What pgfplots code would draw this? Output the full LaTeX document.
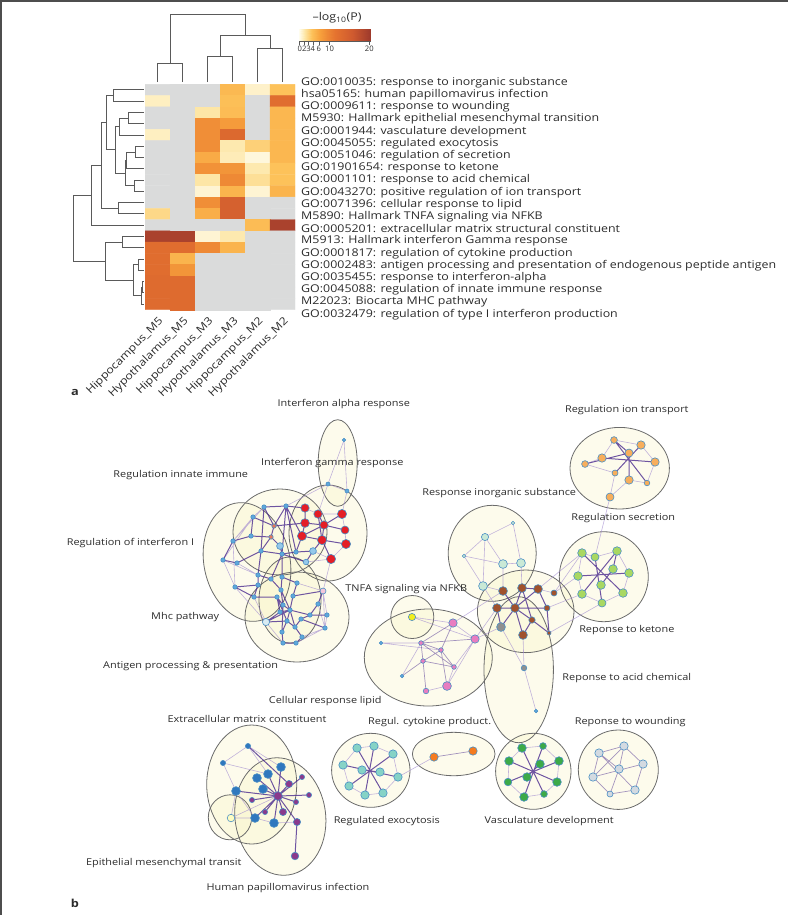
\documentclass[border=0pt]{standalone}
\usepackage{fontspec}
\setmainfont{Open Sans}[FakeStretch=1.16]
\newfontfamily\plainfont{Open Sans}
\usepackage{pgfplots}
\pgfplotsset{compat=1.18}
\newcommand\lbl{\fontsize{10.7}{11}\selectfont}
\newcommand\clbl{\fontsize{10.6}{11}\selectfont}
\newcommand\nlbl{\fontsize{9.4}{11}\selectfont}
\definecolor{hmgray}{HTML}{DADBDB}
\definecolor{h0}{HTML}{FFFDEE}
\definecolor{h1}{HTML}{FDE6A6}
\definecolor{h2}{HTML}{FDC25A}
\definecolor{h3}{HTML}{F7A03C}
\definecolor{h4}{HTML}{E5732F}
\definecolor{h5}{HTML}{CF5A2F}
\definecolor{h6}{HTML}{9E3A2C}
\definecolor{dendro}{HTML}{5A5A5A}
\definecolor{frame}{HTML}{4D4D4D}
\definecolor{txt}{HTML}{2B2B2B}
\definecolor{clfill}{HTML}{F8F4C4}
\definecolor{clline}{HTML}{6B6B6B}
\definecolor{edgeS}{HTML}{4B2B8F}
\definecolor{edgeL}{HTML}{A28BD0}
\definecolor{ndline}{HTML}{4A8FC4}
\definecolor{cRed}{HTML}{E41E26}
\definecolor{cBlue}{HTML}{5FA8DC}
\definecolor{cBlueL}{HTML}{94C8EA}
\definecolor{cPale}{HTML}{D9ECF2}
\definecolor{cPaleP}{HTML}{F4C6DA}
\definecolor{cSalmon}{HTML}{E2785E}
\definecolor{cPink}{HTML}{E87DC0}
\definecolor{cYel}{HTML}{F2EE1E}
\definecolor{cMint}{HTML}{C9E9D6}
\definecolor{cBrown}{HTML}{A0522D}
\definecolor{cGray}{HTML}{8F8F8F}
\definecolor{cIon}{HTML}{F7AE5C}
\definecolor{cKet}{HTML}{A9D862}
\definecolor{cTeal}{HTML}{86D3C6}
\definecolor{cOra}{HTML}{F57B1F}
\definecolor{cGreen}{HTML}{3DAA48}
\definecolor{cWound}{HTML}{D3DAE1}
\definecolor{cECM}{HTML}{2F78BE}
\definecolor{cPurp}{HTML}{8A3A8C}
\definecolor{cPaleY}{HTML}{FDFDC2}

\pgfplotsset{
  nd/.style={scatter, only marks, mark=*, point meta=y,
    scatter/use mapped color={draw=ndline, fill=#1, line width=0.6pt},
    visualization depends on={\thisrow{r}\as\rad},
    scatter/@pre marker code/.append style={/tikz/mark size=\rad}},
  edS/.style={no markers, draw=edgeS, line width=1.0pt, draw opacity=0.8},
  edM/.style={no markers, draw=edgeS, line width=0.7pt, draw opacity=0.5},
  edL/.style={no markers, draw=edgeL, line width=0.6pt, draw opacity=0.65},
  dg/.style={no markers, draw=dendro, line width=1pt},
}

\begin{document}
\begin{tikzpicture}
\useasboundingbox (0,0) rectangle (788pt,-915pt);
\draw[line width=1.6pt, frame] (0.8pt,-915pt) -- (0.8pt,-0.8pt) -- (788pt,-0.8pt);

% ---------------- canvas in pixel units ----------------
\begin{axis}[at={(0pt,0pt)}, anchor=north west, scale only axis,
  width=788pt, height=915pt, xmin=0, xmax=788, ymin=0, ymax=915,
  y dir=reverse, hide axis, clip=false, unbounded coords=jump]

% top dendrogram
\addplot[dg] table[row sep=\\]{x y\\
157.5 82\\ 157.5 63.3\\ 182.5 63.3\\ 182.5 82\\ nan nan\\
207.5 82\\ 207.5 56.7\\ 232.5 56.7\\ 232.5 82\\ nan nan\\
257.5 82\\ 257.5 48.3\\ 282.5 48.3\\ 282.5 82\\ nan nan\\
220 56.7\\ 220 35\\ 270 35\\ 270 48.3\\ nan nan\\
170 63.3\\ 170 14\\ 245 14\\ 245 35\\
};
% left dendrogram
\addplot[dg] table[row sep=\\]{x y\\
143.5 89.9\\ 113.3 89.9\\ 113.3 101.2\\ 143.5 101.2\\ nan nan\\
143.5 112.5\\ 128.3 112.5\\ 128.3 123.7\\ 143.5 123.7\\ nan nan\\
128.3 118.1\\ 119.3 118.1\\ 119.3 135.0\\ 143.5 135.0\\ nan nan\\
143.5 146.3\\ 135 146.3\\ 135 157.6\\ 143.5 157.6\\ nan nan\\
135 152.0\\ 126.7 152.0\\ 126.7 168.8\\ 143.5 168.8\\ nan nan\\
143.5 180.1\\ 134.3 180.1\\ 134.3 191.4\\ 143.5 191.4\\ nan nan\\
126.7 160.4\\ 125.3 160.4\\ 125.3 185.8\\ 134.3 185.8\\ nan nan\\
119.3 126.6\\ 115 126.6\\ 115 173.1\\ 125.3 173.1\\ nan nan\\
113.3 95.6\\ 106.7 95.6\\ 106.7 149.9\\ 115 149.9\\ nan nan\\
143.5 202.6\\ 118.3 202.6\\ 118.3 213.9\\ 143.5 213.9\\ nan nan\\
106.7 122.7\\ 101.7 122.7\\ 101.7 208.3\\ 118.3 208.3\\ nan nan\\
101.7 165.5\\ 91.7 165.5\\ 91.7 225.2\\ 143.5 225.2\\ nan nan\\
143.5 236.5\\ 122.7 236.5\\ 122.7 247.7\\ 143.5 247.7\\ nan nan\\
143.5 259.0\\ 138.3 259.0\\ 138.3 270.3\\ 143.5 270.3\\ nan nan\\
143.5 281.5\\ 142 281.5\\ 142 292.8\\ 143.5 292.8\\ nan nan\\
142 287.2\\ 141 287.2\\ 141 304.1\\ 143.5 304.1\\ nan nan\\
138.3 264.7\\ 133.3 264.7\\ 133.3 295.6\\ 141 295.6\\ nan nan\\
122.7 242.1\\ 105 242.1\\ 105 280.2\\ 133.3 280.2\\ nan nan\\
91.7 195.4\\ 73.3 195.4\\ 73.3 261.1\\ 105 261.1\\
};

\node[font=\fontsize{10.7}{11}\selectfont, txt] at (axis cs:337,18) {–log\textsubscript{10}(P)};
\node[font=\fontsize{11}{12}\bfseries, txt] at (axis cs:75,392) {a};
\node[font=\fontsize{11}{12}\bfseries, txt] at (axis cs:75,903) {b};

% ---------------- cluster regions ----------------
\fill[clfill, fill opacity=0.32] (axis cs:337.7,463) ellipse [x radius=19.5pt, y radius=43.3pt];
\fill[clfill, fill opacity=0.32] (axis cs:328,533) ellipse [x radius=39pt, y radius=48pt];
\fill[clfill, fill opacity=0.32] (axis cs:280,532) ellipse [x radius=47pt, y radius=43pt];
\fill[clfill, fill opacity=0.32] (axis cs:247,562) ellipse [x radius=43pt, y radius=60pt, rotate=12];
\fill[clfill, fill opacity=0.32] (axis cs:290,600) ellipse [x radius=31pt, y radius=43pt];
\fill[clfill, fill opacity=0.32] (axis cs:297,617) ellipse [x radius=52pt, y radius=45pt];
\fill[clfill, fill opacity=0.32] (axis cs:412.3,617) ellipse [x radius=21.5pt, y radius=21.5pt];
\fill[clfill, fill opacity=0.32] (axis cs:428.3,657.5) ellipse [x radius=64pt, y radius=48.5pt];
\fill[clfill, fill opacity=0.32] (axis cs:492.2,553.3) ellipse [x radius=44pt, y radius=48pt];
\fill[clfill, fill opacity=0.32] (axis cs:525.7,611.3) ellipse [x radius=48.3pt, y radius=41.3pt];
\fill[clfill, fill opacity=0.32] (axis cs:619.7,468.2) ellipse [x radius=49.7pt, y radius=40.8pt];
\fill[clfill, fill opacity=0.32] (axis cs:603.8,576.7) ellipse [x radius=44.5pt, y radius=45pt];
\fill[clfill, fill opacity=0.32] (axis cs:518.7,669.7) ellipse [x radius=34.7pt, y radius=73pt];
\fill[clfill, fill opacity=0.32] (axis cs:453.7,754) ellipse [x radius=41.3pt, y radius=21.7pt];
\fill[clfill, fill opacity=0.32] (axis cs:370.8,770.3) ellipse [x radius=39.2pt, y radius=37pt];
\fill[clfill, fill opacity=0.32] (axis cs:533.3,771.3) ellipse [x radius=37.7pt, y radius=38pt];
\fill[clfill, fill opacity=0.32] (axis cs:618.3,769.7) ellipse [x radius=40pt, y radius=39.7pt];
\fill[clfill, fill opacity=0.32] (axis cs:251.7,784.5) ellipse [x radius=45pt, y radius=59.5pt];
\fill[clfill, fill opacity=0.32] (axis cs:280.3,816.5) ellipse [x radius=45.3pt, y radius=59pt, rotate=8];
\fill[clfill, fill opacity=0.32] (axis cs:230,817.3) ellipse [x radius=21.7pt, y radius=22.5pt];

\draw[clline, line width=0.8pt] (axis cs:337.7,463) ellipse [x radius=19.5pt, y radius=43.3pt];
\draw[clline, line width=0.8pt] (axis cs:328,533) ellipse [x radius=39pt, y radius=48pt];
\draw[clline, line width=0.8pt] (axis cs:280,532) ellipse [x radius=47pt, y radius=43pt];
\draw[clline, line width=0.8pt] (axis cs:247,562) ellipse [x radius=43pt, y radius=60pt, rotate=12];
\draw[clline, line width=0.8pt] (axis cs:290,600) ellipse [x radius=31pt, y radius=43pt];
\draw[clline, line width=0.8pt] (axis cs:297,617) ellipse [x radius=52pt, y radius=45pt];
\draw[clline, line width=0.8pt] (axis cs:412.3,617) ellipse [x radius=21.5pt, y radius=21.5pt];
\draw[clline, line width=0.8pt] (axis cs:428.3,657.5) ellipse [x radius=64pt, y radius=48.5pt];
\draw[clline, line width=0.8pt] (axis cs:492.2,553.3) ellipse [x radius=44pt, y radius=48pt];
\draw[clline, line width=0.8pt] (axis cs:525.7,611.3) ellipse [x radius=48.3pt, y radius=41.3pt];
\draw[clline, line width=0.8pt] (axis cs:619.7,468.2) ellipse [x radius=49.7pt, y radius=40.8pt];
\draw[clline, line width=0.8pt] (axis cs:603.8,576.7) ellipse [x radius=44.5pt, y radius=45pt];
\draw[clline, line width=0.8pt] (axis cs:518.7,669.7) ellipse [x radius=34.7pt, y radius=73pt];
\draw[clline, line width=0.8pt] (axis cs:453.7,754) ellipse [x radius=41.3pt, y radius=21.7pt];
\draw[clline, line width=0.8pt] (axis cs:370.8,770.3) ellipse [x radius=39.2pt, y radius=37pt];
\draw[clline, line width=0.8pt] (axis cs:533.3,771.3) ellipse [x radius=37.7pt, y radius=38pt];
\draw[clline, line width=0.8pt] (axis cs:618.3,769.7) ellipse [x radius=40pt, y radius=39.7pt];
\draw[clline, line width=0.8pt] (axis cs:251.7,784.5) ellipse [x radius=45pt, y radius=59.5pt];
\draw[clline, line width=0.8pt] (axis cs:280.3,816.5) ellipse [x radius=45.3pt, y radius=59pt, rotate=8];
\draw[clline, line width=0.8pt] (axis cs:230,817.3) ellipse [x radius=21.7pt, y radius=22.5pt];

% ---------------- edges ----------------
\addplot[edL] table[row sep=\\]{x y\\
223 560\\ 235 587\\ nan nan\\ 233 541\\ 235 587\\ nan nan\\ 237 563\\ 258 575\\ nan nan\\
253 517\\ 233 541\\ nan nan\\ 264 507\\ 253 517\\ nan nan\\ 328 484\\ 347 491\\ nan nan\\
344 440\\ 328 484\\ nan nan\\ 344 440\\ 347 491\\ nan nan\\ 347 491\\ 342 514\\ nan nan\\
328 484\\ 318 514\\ nan nan\\ 328 484\\ 286 506\\ nan nan\\ 323 591\\ 325 628\\ nan nan\\
323 591\\ 297 583\\ nan nan\\ 318 604\\ 325 628\\ nan nan\\ 327 615\\ 325 628\\ nan nan\\
331 559\\ 306 562\\ nan nan\\ 331 559\\ 313 551\\ nan nan\\ 345 530\\ 346 544\\ nan nan\\
342 514\\ 345 530\\ nan nan\\ 318 514\\ 342 514\\ nan nan\\ 305 508\\ 318 514\\ nan nan\\
346 544\\ 331 559\\ nan nan\\ 223 560\\ 258 575\\ nan nan\\ 233 541\\ 264 507\\ nan nan\\
323 591\\ 327 615\\ nan nan\\ 331 559\\ 323 591\\ nan nan\\ 235 587\\ 266 622\\ nan nan\\
254 597\\ 266 622\\ nan nan\\ 325 628\\ 302 637\\ nan nan\\ 296 643\\ 325 628\\ nan nan\\
253 517\\ 223 560\\ nan nan\\ 266 622\\ 283 643\\ nan nan\\
412 617\\ 475 639\\ nan nan\\ 412 617\\ 453 623\\ nan nan\\ 381 643\\ 421 643\\ nan nan\\
381 643\\ 441 650\\ nan nan\\ 402 676\\ 421 643\\ nan nan\\ 453 623\\ 475 639\\ nan nan\\
475 639\\ 454 667\\ nan nan\\ 447 686\\ 454 667\\ nan nan\\ 426 691\\ 447 686\\ nan nan\\
475 639\\ 497 608\\ nan nan\\ 453 623\\ 503 591\\ nan nan\\ 475 639\\ 447 686\\ nan nan\\
554 593\\ 538 589\\ nan nan\\ 554 593\\ 578 576\\ nan nan\\ 503 591\\ 503 564\\ nan nan\\
522 588\\ 521 563\\ nan nan\\ 497 608\\ 483 586\\ nan nan\\ 501 627\\ 524 668\\ nan nan\\
524 668\\ 536 711\\ nan nan\\ 523 635\\ 524 668\\ nan nan\\ 503 591\\ 483 586\\ nan nan\\
547 608\\ 582 594\\ nan nan\\ 538 589\\ 582 553\\ nan nan\\ 554 593\\ 582 553\\ nan nan\\
501 627\\ 475 639\\ nan nan\\ 549 633\\ 602 603\\ nan nan\\
485 537\\ 513 523\\ nan nan\\ 485 537\\ 464 556\\ nan nan\\ 485 537\\ 503 564\\ nan nan\\
513 523\\ 521 563\\ nan nan\\ 464 556\\ 483 586\\ nan nan\\ 503 564\\ 521 563\\ nan nan\\
464 556\\ 503 564\\ nan nan\\ 485 537\\ 483 586\\ nan nan\\
614 440\\ 602 458\\ nan nan\\ 602 458\\ 585 464\\ nan nan\\ 641 445\\ 655 462\\ nan nan\\
655 462\\ 647 483\\ nan nan\\ 629 480\\ 647 483\\ nan nan\\ 615 473\\ 610 497\\ nan nan\\
585 464\\ 615 473\\ nan nan\\ 610 497\\ 629 480\\ nan nan\\ 610 497\\ 595 557\\ nan nan\\
614 440\\ 641 445\\ nan nan\\
582 553\\ 595 557\\ nan nan\\ 595 557\\ 617 551\\ nan nan\\ 617 551\\ 629 573\\ nan nan\\
629 573\\ 623 593\\ nan nan\\ 623 593\\ 602 603\\ nan nan\\ 602 603\\ 582 594\\ nan nan\\
582 594\\ 578 576\\ nan nan\\ 578 576\\ 582 553\\ nan nan\\
357 748\\ 374 746\\ nan nan\\ 374 746\\ 393 754\\ nan nan\\ 393 754\\ 398 777\\ nan nan\\
398 777\\ 383 793\\ nan nan\\ 383 793\\ 365 795\\ nan nan\\ 365 795\\ 349 786\\ nan nan\\
349 786\\ 343 765\\ nan nan\\ 343 765\\ 357 748\\ nan nan\\ 398 777\\ 434 757\\ nan nan\\
522 748\\ 543 746\\ nan nan\\ 543 746\\ 559 761\\ nan nan\\ 559 761\\ 557 782\\ nan nan\\
557 782\\ 544 794\\ nan nan\\ 544 794\\ 524 797\\ nan nan\\ 524 797\\ 508 782\\ nan nan\\
508 782\\ 509 761\\ nan nan\\ 509 761\\ 522 748\\ nan nan\\
248 746\\ 223 763\\ nan nan\\ 248 746\\ 268 774\\ nan nan\\ 223 763\\ 268 774\\ nan nan\\
223 763\\ 236 791\\ nan nan\\ 236 791\\ 231 818\\ nan nan\\ 231 818\\ 255 818\\ nan nan\\
231 818\\ 278 796\\ nan nan\\ 255 818\\ 274 823\\ nan nan\\ 274 823\\ 297 822\\ nan nan\\
248 746\\ 281 767\\ nan nan\\ 236 791\\ 255 818\\
};
\addplot[edM] table[row sep=\\]{x y\\
421 643\\ 441 650\\ nan nan\\ 421 643\\ 423 661\\ nan nan\\ 441 650\\ 423 661\\ nan nan\\
441 650\\ 454 667\\ nan nan\\ 423 661\\ 454 667\\ nan nan\\ 421 643\\ 475 639\\ nan nan\\
421 643\\ 454 667\\ nan nan\\ 441 650\\ 447 686\\ nan nan\\ 423 661\\ 426 691\\ nan nan\\
423 661\\ 402 676\\ nan nan\\ 421 643\\ 453 623\\ nan nan\\ 441 650\\ 453 623\\ nan nan\\
434 757\\ 473 751\\ nan nan\\
599 753\\ 635 790\\ nan nan\\ 624 746\\ 593 777\\ nan nan\\ 643 764\\ 593 777\\ nan nan\\
619 769\\ 610 794\\ nan nan\\ 599 753\\ 624 746\\ nan nan\\ 624 746\\ 643 764\\ nan nan\\
643 764\\ 635 790\\ nan nan\\ 635 790\\ 610 794\\ nan nan\\ 610 794\\ 593 777\\ nan nan\\
593 777\\ 599 753\\ nan nan\\ 624 746\\ 619 769\\ nan nan\\ 599 753\\ 619 769\\
};
\addplot[edS] table[row sep=\\]{x y\\
264 507\\ 286 506\\ nan nan\\ 264 507\\ 274 526\\ nan nan\\ 286 506\\ 274 526\\ nan nan\\
286 506\\ 296 552\\ nan nan\\ 253 517\\ 274 526\\ nan nan\\ 253 517\\ 251 536\\ nan nan\\
251 536\\ 271 537\\ nan nan\\ 274 526\\ 271 537\\ nan nan\\ 271 537\\ 280 546\\ nan nan\\
280 546\\ 282 554\\ nan nan\\ 282 554\\ 296 552\\ nan nan\\ 296 552\\ 313 551\\ nan nan\\
233 541\\ 251 536\\ nan nan\\ 233 541\\ 223 560\\ nan nan\\ 223 560\\ 237 563\\ nan nan\\
237 563\\ 261 551\\ nan nan\\ 261 551\\ 271 537\\ nan nan\\ 261 551\\ 282 554\\ nan nan\\
306 562\\ 313 551\\ nan nan\\ 306 562\\ 282 554\\ nan nan\\ 286 506\\ 302 536\\ nan nan\\
296 552\\ 302 536\\ nan nan\\ 313 551\\ 322 540\\ nan nan\\ 274 526\\ 305 523\\ nan nan\\
286 506\\ 305 508\\ nan nan\\ 282 554\\ 282 577\\ nan nan\\ 282 577\\ 281 590\\ nan nan\\
271 579\\ 281 590\\ nan nan\\ 258 575\\ 271 579\\ nan nan\\ 261 551\\ 258 575\\ nan nan\\
282 554\\ 271 579\\ nan nan\\ 264 507\\ 261 551\\ nan nan\\ 286 506\\ 282 554\\ nan nan\\
281 590\\ 290 610\\ nan nan\\ 283 605\\ 290 610\\ nan nan\\ 293 596\\ 290 610\\ nan nan\\
297 583\\ 293 596\\ nan nan\\ 297 583\\ 282 577\\ nan nan\\ 281 590\\ 283 605\\ nan nan\\
277 597\\ 283 605\\ nan nan\\ 254 597\\ 277 597\\ nan nan\\ 258 585\\ 254 597\\ nan nan\\
235 587\\ 258 585\\ nan nan\\ 258 575\\ 258 585\\ nan nan\\ 280 612\\ 290 610\\ nan nan\\
287 621\\ 290 610\\ nan nan\\ 287 621\\ 295 627\\ nan nan\\ 301 619\\ 295 627\\ nan nan\\
310 615\\ 301 619\\ nan nan\\ 310 615\\ 290 610\\ nan nan\\ 318 604\\ 310 615\\ nan nan\\
327 615\\ 310 615\\ nan nan\\ 325 628\\ 301 619\\ nan nan\\ 266 622\\ 287 621\\ nan nan\\
266 622\\ 280 612\\ nan nan\\ 282 632\\ 287 621\\ nan nan\\ 302 637\\ 295 627\\ nan nan\\
283 643\\ 282 632\\ nan nan\\ 296 643\\ 302 637\\ nan nan\\ 283 643\\ 296 643\\ nan nan\\
323 591\\ 293 596\\ nan nan\\ 323 591\\ 318 604\\ nan nan\\ 235 587\\ 254 597\\ nan nan\\
277 597\\ 280 612\\ nan nan\\ 290 610\\ 295 627\\ nan nan\\ 283 605\\ 282 632\\ nan nan\\
266 622\\ 290 610\\ nan nan\\ 277 597\\ 287 621\\ nan nan\\
305 508\\ 305 523\\ nan nan\\ 305 523\\ 302 536\\ nan nan\\ 302 536\\ 322 540\\ nan nan\\
322 540\\ 346 544\\ nan nan\\ 324 525\\ 322 540\\ nan nan\\ 318 514\\ 324 525\\ nan nan\\
324 525\\ 345 530\\ nan nan\\ 305 523\\ 324 525\\ nan nan\\ 322 540\\ 331 559\\ nan nan\\
324 525\\ 342 514\\ nan nan\\ 302 536\\ 324 525\\ nan nan\\ 318 514\\ 322 540\\ nan nan\\
503 591\\ 515 608\\ nan nan\\ 522 588\\ 515 608\\ nan nan\\ 538 589\\ 515 608\\ nan nan\\
515 608\\ 497 608\\ nan nan\\ 515 608\\ 532 620\\ nan nan\\ 532 620\\ 523 635\\ nan nan\\
515 608\\ 523 635\\ nan nan\\ 538 589\\ 547 608\\ nan nan\\ 522 588\\ 532 620\\ nan nan\\
515 608\\ 547 608\\ nan nan\\ 532 620\\ 549 633\\ nan nan\\ 497 608\\ 501 627\\ nan nan\\
515 608\\ 501 627\\ nan nan\\ 522 588\\ 538 589\\ nan nan\\ 547 608\\ 549 633\\ nan nan\\
614 440\\ 647 483\\ nan nan\\ 641 445\\ 615 473\\ nan nan\\ 602 458\\ 655 462\\ nan nan\\
629 453\\ 629 480\\ nan nan\\ 585 464\\ 629 453\\ nan nan\\ 614 440\\ 629 453\\ nan nan\\
582 553\\ 623 593\\ nan nan\\ 617 551\\ 582 594\\ nan nan\\ 578 576\\ 629 573\\ nan nan\\
595 557\\ 602 603\\ nan nan\\ 613 569\\ 601 585\\ nan nan\\ 613 569\\ 617 551\\ nan nan\\
357 748\\ 383 793\\ nan nan\\ 374 746\\ 365 795\\ nan nan\\ 393 754\\ 349 786\\ nan nan\\
343 765\\ 398 777\\ nan nan\\ 362 770\\ 380 772\\ nan nan\\
522 748\\ 544 794\\ nan nan\\ 543 746\\ 524 797\\ nan nan\\ 509 761\\ 557 782\\ nan nan\\
559 761\\ 508 782\\ nan nan\\ 540 764\\ 527 777\\ nan nan\\
278 796\\ 281 767\\ nan nan\\ 278 796\\ 268 774\\ nan nan\\ 278 796\\ 257 778\\ nan nan\\
278 796\\ 236 791\\ nan nan\\ 278 796\\ 263 789\\ nan nan\\ 278 796\\ 255 818\\ nan nan\\
278 796\\ 274 823\\ nan nan\\ 278 796\\ 289 784\\ nan nan\\ 278 796\\ 302 777\\ nan nan\\
278 796\\ 252 800\\ nan nan\\ 278 796\\ 296 802\\ nan nan\\ 278 796\\ 309 795\\ nan nan\\
278 796\\ 283 812\\ nan nan\\ 278 796\\ 265 812\\ nan nan\\ 278 796\\ 297 822\\ nan nan\\
297 822\\ 295 856\\ nan nan\\ 289 784\\ 248 746\\
};

% ---------------- nodes ----------------
\addplot[nd=cBlue] table{x y r
344 440 1.8
328 484 2.0
347 491 2.0
264 507 2.2
286 506 2.2
253 517 2.2
251 536 2.2
233 541 2.2
261 551 2.2
282 554 2.2
296 552 2.2
223 560 2.2
237 563 2.2
258 575 2.2
271 579 2.2
282 577 2.2
297 583 2.2
235 587 2.2
258 585 2.2
281 590 2.2
254 597 2.2
277 597 2.2
293 596 2.2
283 605 2.2
318 604 2.2
290 610 2.2
280 612 2.2
310 615 2.2
327 615 2.2
287 621 2.2
301 619 2.2
295 627 2.2
325 628 2.2
282 632 2.2
302 637 2.2
283 643 2.2
296 643 2.2
402 676 1.8
381 643 1.8
536 711 1.8
};
\addplot[nd=cSalmon] table{x y r
274 526 2.2
271 537 2.2
};
\addplot[nd=cBlueL] table{x y r
280 546 3.4
313 551 3.4
306 562 2.8
};
\addplot[nd=cPale] table{x y r
266 622 3.6
};
\addplot[nd=cPaleP] table{x y r
323 591 3.0
};
\addplot[nd=cRed] table{x y r
305 508 4.2
318 514 4.2
342 514 4.6
305 523 4.4
324 525 4.2
345 530 4.0
302 536 4.6
322 540 4.6
346 544 4.6
331 559 4.6
};
\addplot[nd=cPink] table{x y r
453 623 4.2
475 639 4.2
421 643 2.3
441 650 2.3
423 661 2.3
454 667 2.3
426 691 2.8
447 686 4.4
};
\addplot[nd=cYel] table{x y r
412 617 3.6
};
\addplot[nd=cMint] table{x y r
485 537 3.6
513 523 1.8
464 556 1.8
503 564 4.4
521 563 4.4
483 586 4.4
};
\addplot[nd=cBrown] table{x y r
503 591 4.4
522 588 4.4
538 589 4.4
554 593 3.0
497 608 4.4
515 608 4.4
547 608 3.0
532 620 3.2
523 635 4.4
549 633 2.0
};
\addplot[nd=cGray] table{x y r
501 627 4.4
524 668 2.8
};
\addplot[nd=cIon] table{x y r
614 440 3.4
641 445 4.2
602 458 4.2
629 453 4.0
585 464 3.4
655 462 4.2
615 473 3.0
629 480 4.2
647 483 2.8
610 497 4.0
};
\addplot[nd=cKet] table{x y r
582 553 4.3
595 557 4.0
617 551 4.3
613 569 4.3
578 576 4.3
629 573 4.3
601 585 4.3
582 594 4.3
623 593 4.3
602 603 4.0
};
\addplot[nd=cTeal] table{x y r
357 748 4.2
374 746 4.2
393 754 4.2
343 765 4.2
362 770 4.2
380 772 4.2
398 777 4.2
349 786 4.2
365 795 4.2
383 793 4.2
};
\addplot[nd=cOra] table{x y r
434 757 4.2
473 751 4.2
};
\addplot[nd=cGreen] table{x y r
522 748 4.3
543 746 3.4
509 761 4.3
540 764 4.3
559 761 4.3
527 777 4.3
508 782 3.8
557 782 4.3
524 797 4.3
544 794 3.4
};
\addplot[nd=cWound] table{x y r
599 753 4.2
624 746 4.2
643 764 4.2
619 769 4.2
593 777 4.2
635 790 4.2
610 794 3.0
};
\addplot[nd=cECM] table{x y r
248 746 2.6
223 763 2.6
281 767 4.4
268 774 4.4
257 778 4.4
236 791 4.4
263 789 4.4
255 818 4.4
274 823 4.4
};
\addplot[nd=cPurp] table{x y r
289 784 3.6
302 777 2.6
278 796 4.4
252 800 2.6
296 802 2.6
309 795 2.6
283 812 3.6
265 812 2.6
297 822 3.6
295 856 3.8
};
\addplot[nd=cPaleY] table{x y r
231 818 3.8
};

% ---------------- cluster labels ----------------
\begin{scope}[every node/.style={font=\nlbl, text=txt, inner sep=0pt}]
\node at (axis cs:343.8,404) {Interferon alpha response};
\node at (axis cs:332.2,463.3) {Interferon gamma response};
\node[anchor=east] at (axis cs:248.3,475) {Regulation innate immune};
\node[anchor=east] at (axis cs:194.3,543) {Regulation of interferon I};
\node[anchor=east] at (axis cs:219.3,616.7) {Mhc pathway};
\node[anchor=east] at (axis cs:278.3,666) {Antigen processing \& presentation};
\node at (axis cs:406.3,589.3) {TNFA signaling via NFKB};
\node at (axis cs:499.2,493.3) {Response inorganic substance};
\node at (axis cs:626.8,410) {Regulation ion transport};
\node at (axis cs:623.2,518.3) {Regulation secretion};
\node at (axis cs:626.8,630) {Reponse to ketone};
\node at (axis cs:626.8,677.7) {Reponse to acid chemical};
\node at (axis cs:325.3,701) {Cellular response lipid};
\node[anchor=east] at (axis cs:326.7,719.3) {Extracellular matrix constituent};
\node at (axis cs:429.7,721.7) {Regul. cytokine product.};
\node at (axis cs:630.2,721.7) {Reponse to wounding};
\node at (axis cs:386.8,821.3) {Regulated exocytosis};
\node at (axis cs:549.2,821.3) {Vasculature development};
\node[anchor=east] at (axis cs:241.7,863.3) {Epithelial mesenchymal transit};
\node at (axis cs:288,888.3) {Human papillomavirus infection};
\end{scope}
\end{axis}

% ---------------- heatmap ----------------
% rows are 11.27pt high; the axis runs one row beyond the cells so that the
% term labels, which are spaced a little wider than the rows, can be ticks
\begin{axis}[at={(145pt,-78.67pt)}, anchor=north west, scale only axis,
  width=150pt, height=236.67pt,
  xmin=-0.5, xmax=5.5, ymin=-1, ymax=20,
  axis line style={draw=none}, major tick length=0pt,
  colormap={hm}{color(0pt)=(hmgray) color(9pt)=(hmgray) color(10pt)=(h0)
    color(18pt)=(h1) color(28pt)=(h2) color(40pt)=(h3) color(60pt)=(h4)
    color(85pt)=(h5) color(110pt)=(h6)},
  point meta min=0, point meta max=110,
  xtick={0,1,2,3,4,5},
  xticklabels={Hippocampus\_M5,Hypothalamus\_M5,Hippocampus\_M3,Hypothalamus\_M3,Hippocampus\_M2,Hypothalamus\_M2},
  xticklabel style={font=\clbl, text=txt, rotate=45, anchor=east, inner sep=0pt, xshift=0pt, yshift=-6pt},
  ytick={-0.911,0.172,1.254,2.337,3.419,4.502,5.584,6.667,7.749,8.832,9.914,10.997,12.079,13.162,14.244,15.327,16.409,17.492,18.574,19.657},
  yticklabel pos=right,
  yticklabels={GO:0032479: regulation of type I interferon production,
    M22023: Biocarta MHC pathway,
    GO:0045088: regulation of innate immune response,
    GO:0035455: response to interferon-alpha,
    GO:0002483: antigen processing and presentation of endogenous peptide antigen,
    GO:0001817: regulation of cytokine production,
    M5913: Hallmark interferon Gamma response,
    GO:0005201: extracellular matrix structural constituent,
    M5890: Hallmark TNFA signaling via NFKB,
    GO:0071396: cellular response to lipid,
    GO:0043270: positive regulation of ion transport,
    GO:0001101: response to acid chemical,
    GO:01901654: response to ketone,
    GO:0051046: regulation of secretion,
    GO:0045055: regulated exocytosis,
    GO:0001944: vasculature development,
    M5930: Hallmark epithelial mesenchymal transition,
    GO:0009611: response to wounding,
    hsa05165: human papillomavirus infection,
    GO:0010035: response to inorganic substance},
  yticklabel style={font=\lbl, text=txt, anchor=west, inner sep=0pt, xshift=6pt},
]
\addplot[matrix plot*, mesh/cols=6, point meta=explicit] table[meta=v]{x y v
0 19 0
1 19 0
2 19 0
3 19 31
4 19 14
5 19 28
0 18 15
1 18 0
2 18 0
3 18 29
4 18 0
5 18 66
0 17 0
1 17 0
2 17 18
3 17 30
4 17 0
5 17 32
0 16 0
1 16 0
2 16 48
3 16 42
4 16 0
5 16 32
0 15 15
1 15 0
2 15 48
3 15 70
4 15 0
5 15 32
0 14 0
1 14 0
2 14 48
3 14 17
4 14 24
5 14 32
0 13 0
1 13 0
2 13 36
3 13 16
4 13 12
5 13 32
0 12 0
1 12 0
2 12 46
3 12 45
4 12 17
5 12 28
0 11 0
1 11 0
2 11 18
3 11 50
4 11 20
5 11 28
0 10 0
1 10 0
2 10 13
3 10 33
4 10 13
5 10 33
0 9 0
1 9 0
2 9 48
3 9 78
4 9 0
5 9 0
0 8 22
1 8 0
2 8 35
3 8 78
4 8 0
5 8 0
0 7 0
1 7 0
2 7 0
3 7 0
4 7 30
5 7 104
0 6 104
1 6 104
2 6 13
3 6 17
4 6 0
5 6 0
0 5 66
1 5 66
2 5 50
3 5 33
4 5 0
5 5 0
0 4 66
1 4 33
2 4 0
3 4 0
4 4 0
5 4 0
0 3 66
1 3 45
2 3 0
3 3 0
4 3 0
5 3 0
0 2 68
1 2 68
2 2 0
3 2 0
4 2 0
5 2 0
0 1 68
1 1 68
2 1 0
3 1 0
4 1 0
5 1 0
0 0 68
1 0 68
2 0 0
3 0 0
4 0 0
5 0 0
};
\end{axis}

% ---------------- colour scale ----------------
\begin{axis}[at={(299pt,-29pt)}, anchor=north west, scale only axis,
  width=71pt, height=12pt, xmin=0, xmax=100, ymin=0, ymax=1,
  colormap={hmbar}{color(0pt)=(h0) color(8pt)=(h1) color(18pt)=(h2)
    color(30pt)=(h3) color(50pt)=(h4) color(75pt)=(h5) color(100pt)=(h6)},
  point meta min=0, point meta max=100,
  ytick=\empty, xtick={1,7.5,13.5,19.5,28,43,99}, xticklabels={0,2,3,4,6,10,20},
  xtick pos=lower, tick align=outside, major tick length=4pt,
  tick style={draw=dendro, line width=0.6pt},
  axis line style={draw=dendro, line width=0.6pt},
  xticklabel style={font=\plainfont\fontsize{7.6}{8}\selectfont, text=txt, inner sep=1pt},
]
\addplot[surf, shader=interp, mesh/cols=11, point meta=x] table{x y
0 0
10 0
20 0
30 0
40 0
50 0
60 0
70 0
80 0
90 0
100 0
0 1
10 1
20 1
30 1
40 1
50 1
60 1
70 1
80 1
90 1
100 1
};
\end{axis}
\end{tikzpicture}
\end{document}
